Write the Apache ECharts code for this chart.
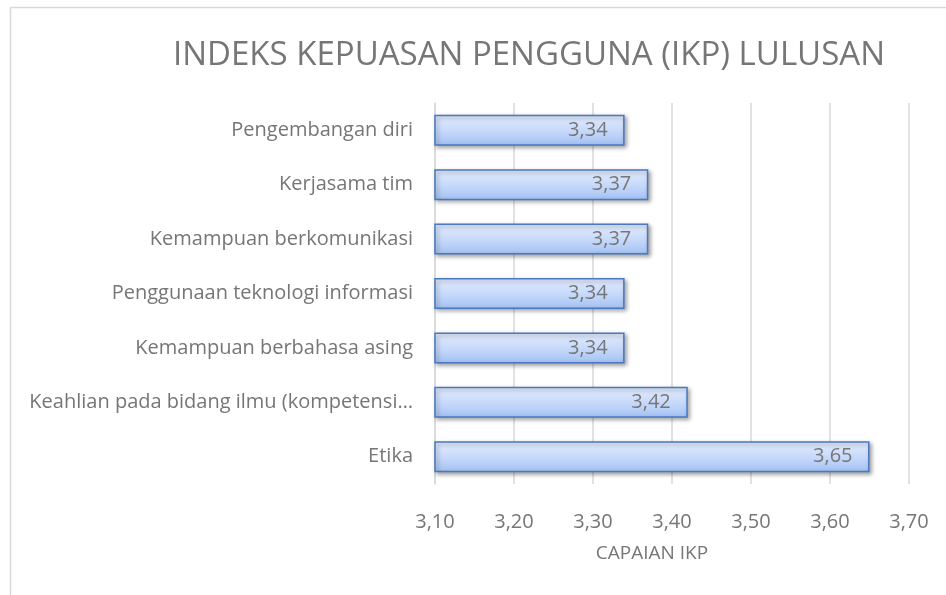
<!DOCTYPE html>
<html>
<head>
<meta charset="utf-8">
<title>Indeks Kepuasan Pengguna</title>
<script src="https://cdn.jsdelivr.net/npm/echarts@6/dist/echarts.min.js"></script>
<style>
  html, body { margin: 0; padding: 0; background: #fff; }
  #chart { width: 946px; height: 595px; }
</style>
</head>
<body>
<div id="chart"></div>
<script>
// data, bottom to top as the axis draws them
const categories = [
  'Etika',
  'Keahlian pada bidang ilmu (kompetensi utama)',
  'Kemampuan berbahasa asing',
  'Penggunaan teknologi informasi',
  'Kemampuan berkomunikasi',
  'Kerjasama tim',
  'Pengembangan diri'
];
const ikpValues = [3.65, 3.42, 3.34, 3.34, 3.37, 3.37, 3.34];
const xTicks = { min: 3.1, max: 3.7, step: 0.1 };

const fontFam = '"Open Sans", "Noto Sans", sans-serif';
const grey = '#767676';
const comma = v => v.toFixed(2).replace('.', ',');
const labelFont = '20px "Open Sans"';

// cut long category names like Excel does: no space before the ellipsis
function shortName(name) {
  const cut = echarts.format.truncateText(name, 394, labelFont, '…');
  return cut.replace(/\s+…$/, '…');
}

const chart = echarts.init(document.getElementById('chart'));
chart.setOption({
  backgroundColor: '#fff',
  textStyle: { fontFamily: fontFam },
  title: {
    text: 'INDEKS KEPUASAN PENGGUNA (IKP) LULUSAN',
    left: 524,
    top: 34,
    textAlign: 'center',
    textStyle: { fontSize: 33, fontWeight: 'normal', color: grey, fontFamily: fontFam }
  },
  graphic: [{
    type: 'rect',
    shape: { x: 10.5, y: 7.5, width: 960, height: 700 },
    style: { fill: 'none', stroke: '#d9d9d9', lineWidth: 1.5 },
    silent: true
  }],
  grid: { left: 435, right: 37, top: 103, bottom: 111, containLabel: false },
  xAxis: {
    type: 'value',
    min: xTicks.min,
    max: xTicks.max,
    interval: xTicks.step,
    name: 'CAPAIAN IKP',
    nameLocation: 'middle',
    nameGap: 60,
    nameTextStyle: { fontSize: 19, color: grey, padding: [0, 40, 0, 0] },
    axisLine: { show: false },
    axisTick: { show: false },
    axisLabel: { fontSize: 20, color: grey, margin: 28, formatter: v => comma(v) },
    splitLine: { lineStyle: { color: '#d9d9d9', width: 1.5 } }
  },
  yAxis: {
    type: 'category',
    data: categories,
    axisLine: { lineStyle: { color: '#d9d9d9', width: 1.5 } },
    axisTick: { show: false },
    axisLabel: {
      fontSize: 20,
      color: grey,
      margin: 22,
      formatter: shortName
    }
  },
  series: [{
    type: 'bar',
    data: ikpValues,
    barCategoryGap: '43%',
    itemStyle: {
      color: new echarts.graphic.LinearGradient(0, 0, 0, 1, [
        { offset: 0, color: '#e3ecfd' },
        { offset: 0.5, color: '#c8dafa' },
        { offset: 1, color: '#a3c1f3' }
      ]),
      borderColor: '#4a78c2',
      borderWidth: 1.5,
      shadowColor: 'rgba(0,0,0,0.35)',
      shadowBlur: 4,
      shadowOffsetX: 2,
      shadowOffsetY: 2
    },
    label: {
      show: true,
      position: 'insideRight',
      distance: 17,
      fontSize: 20,
      color: grey,
      formatter: p => comma(p.value)
    }
  }]
});
</script>
</body>
</html>
